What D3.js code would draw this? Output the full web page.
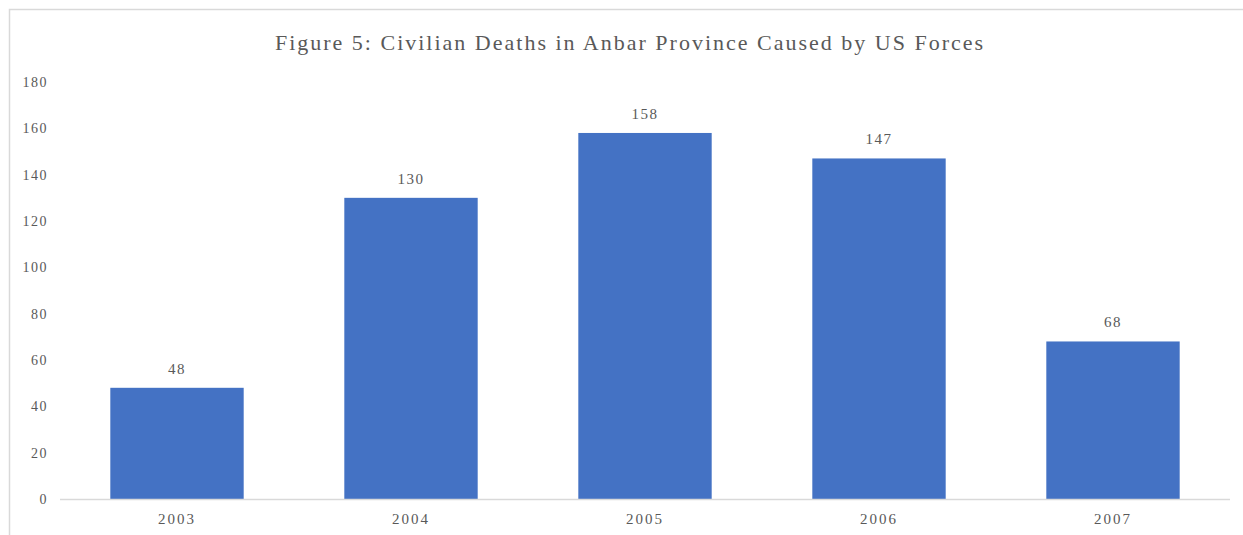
<!DOCTYPE html>
<html>
<head>
<meta charset="utf-8">
<script src="https://cdn.jsdelivr.net/npm/d3@7"></script>
<style>
  body { margin: 0; background: #fff; }
  svg text { font-family: "Liberation Serif", "DejaVu Serif", serif; fill: #595959; }
</style>
</head>
<body>
<div id="chart"></div>
<script>
var years = ["2003", "2004", "2005", "2006", "2007"];
var deaths = [48, 130, 158, 147, 68];
var yTicks = [0, 20, 40, 60, 80, 100, 120, 140, 160, 180];
var title = "Figure 5: Civilian Deaths in Anbar Province Caused by US Forces";

var W = 1243, H = 535;
var margin = {top: 82, right: 13, bottom: 36, left: 60};
var width = W - margin.left - margin.right;
var height = H - margin.top - margin.bottom;

var svg = d3.select("#chart").append("svg")
    .attr("width", W)
    .attr("height", H);

// chart frame
svg.append("rect")
    .attr("x", 9.5).attr("y", 9.5)
    .attr("width", W + 20).attr("height", H + 20)
    .attr("fill", "none")
    .attr("stroke", "#d9d9d9")
    .attr("stroke-width", 1.5);

svg.append("text")
    .attr("x", 630).attr("y", 50)
    .attr("text-anchor", "middle")
    .style("font-size", "22px")
    .style("letter-spacing", "2px")
    .text(title);

var g = svg.append("g")
    .attr("transform", "translate(" + margin.left + "," + margin.top + ")");

var x = d3.scaleBand().domain(years).range([0, width]).paddingInner(0.43).paddingOuter(0.215);
var y = d3.scaleLinear().domain([0, 180]).range([height, 0]);

// y labels (no axis line)
var axisLeft = d3.axisLeft(y).tickValues(yTicks).tickSize(0).tickPadding(12);
g.append("g")
    .call(axisLeft)
    .call(function(s) { s.select(".domain").remove(); })
    .selectAll("text")
    .style("font-size", "14px")
    .style("letter-spacing", "1.5px");

g.selectAll(".bar")
    .data(deaths)
  .enter().append("rect")
    .attr("class", "bar")
    .attr("x", function(d, i) { return x(years[i]); })
    .attr("width", x.bandwidth())
    .attr("y", function(d) { return y(d); })
    .attr("height", function(d) { return height - y(d); })
    .attr("fill", "#4472c4");

// baseline
g.append("line")
    .attr("x1", 0).attr("x2", width)
    .attr("y1", height + 0.5).attr("y2", height + 0.5)
    .attr("stroke", "#d9d9d9")
    .attr("stroke-width", 1.5);

var axisBottom = d3.axisBottom(x).tickSize(0).tickPadding(14);
g.append("g")
    .attr("transform", "translate(0," + height + ")")
    .call(axisBottom)
    .call(function(s) { s.select(".domain").remove(); })
    .selectAll("text")
    .style("font-size", "15px")
    .style("letter-spacing", "2px");

g.selectAll(".lbl")
    .data(deaths)
  .enter().append("text")
    .attr("class", "lbl")
    .attr("x", function(d, i) { return x(years[i]) + x.bandwidth() / 2; })
    .attr("y", function(d) { return y(d) - 14; })
    .attr("text-anchor", "middle")
    .style("font-size", "15px")
    .style("letter-spacing", "1.5px")
    .text(function(d) { return d; });
</script>
</body>
</html>
